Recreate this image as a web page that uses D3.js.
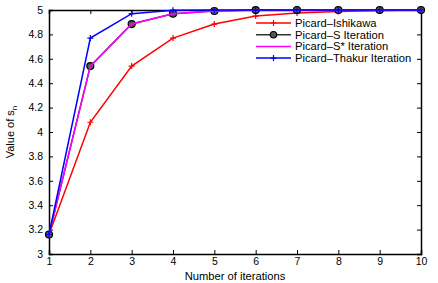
<!DOCTYPE html>
<html>
<head>
<script src="https://cdn.jsdelivr.net/npm/d3@7"></script>
<style>
  body { margin: 0; background: #fff; }
  text { font-family: "Liberation Sans", Arial, sans-serif; }
</style>
</head>
<body>
<div id="chart"></div>
<script>
// iterations on the x axis
var iterations = [1, 2, 3, 4, 5, 6, 7, 8, 9, 10];

// values
var ishikawa = [3.16, 4.08, 4.54, 4.77, 4.885, 4.95, 4.975, 4.988, 4.995, 5.0];
var picardS  = [3.16, 4.54, 4.885, 4.97, 4.992, 4.999, 5.0, 5.0, 5.0, 5.0];
var picardS2 = [3.16, 4.54, 4.885, 4.97, 4.992, 4.999, 5.0, 5.0, 5.0, 5.0];
var thakur   = [3.16, 4.77, 4.97, 4.997, 5.0, 5.0, 5.0, 5.0, 5.0, 5.0];

var yTicks = [3, 3.2, 3.4, 3.6, 3.8, 4, 4.2, 4.4, 4.6, 4.8, 5];

var width = 438, height = 283;
var margin = {top: 10, right: 17, bottom: 29, left: 49};

var svg = d3.select("#chart").append("svg")
    .attr("width", width).attr("height", height);

var x = d3.scaleLinear().domain([1, 10]).range([margin.left, width - margin.right]);
var y = d3.scaleLinear().domain([3, 5]).range([height - margin.bottom, margin.top]);

// axes with inward ticks on all four sides
var tl = 4;
svg.append("g")
    .attr("transform", "translate(0," + y(3) + ")")
    .call(d3.axisBottom(x).tickValues(iterations).tickSize(-tl).tickPadding(4).tickFormat(d3.format("d")));
svg.append("g")
    .attr("transform", "translate(0," + y(5) + ")")
    .call(d3.axisTop(x).tickValues(iterations).tickSize(-tl).tickFormat(""));
svg.append("g")
    .attr("transform", "translate(" + x(1) + ",0)")
    .call(d3.axisLeft(y).tickValues(yTicks).tickSize(-tl).tickPadding(6).tickFormat(function(d){ return d3.format("")(+d.toFixed(1)); }));
svg.append("g")
    .attr("transform", "translate(" + x(10) + ",0)")
    .call(d3.axisRight(y).tickValues(yTicks).tickSize(-tl).tickFormat(""));

svg.selectAll(".domain").attr("stroke", "#000").attr("stroke-width", 1.5);
svg.selectAll(".tick line").attr("stroke", "#000");
svg.selectAll(".tick text").attr("font-size", 10.5).attr("fill", "#000");

var line = d3.line().x(function(d, i){ return x(iterations[i]); }).y(function(d){ return y(d); });

function plus(g, data, color) {
  g.selectAll(null).data(data).enter().append("path")
    .attr("d", function(d, i){
      var cx = x(iterations[i]), cy = y(d), s = 3;
      return "M" + (cx - s) + "," + cy + "H" + (cx + s) + "M" + cx + "," + (cy - s) + "V" + (cy + s);
    })
    .attr("stroke", color).attr("stroke-width", 1.2);
}

var series = [
  {name: "Picard\u2013Ishikawa", data: ishikawa, color: "#ff0000", marker: "plus"},
  {name: "Picard\u2013S Iteration", data: picardS, color: "#333333", marker: "circle"},
  {name: "Picard\u2013S* Iteration", data: picardS2, color: "#ff00ff", marker: "none"},
  {name: "Picard\u2013Thakur Iteration", data: thakur, color: "#0000ff", marker: "plus"}
];

series.forEach(function(s) {
  var g = svg.append("g");
  g.append("path").datum(s.data).attr("d", line)
    .attr("fill", "none").attr("stroke", s.color).attr("stroke-width", 1.5);
  if (s.marker === "plus") plus(g, s.data, s.color);
  if (s.marker === "circle") {
    g.selectAll(null).data(s.data).enter().append("circle")
      .attr("cx", function(d, i){ return x(iterations[i]); })
      .attr("cy", function(d){ return y(d); })
      .attr("r", 3.5).attr("fill", "#555").attr("stroke", "#000").attr("stroke-width", 1.2);
  }
});

// legend
var legend = svg.append("g");
series.forEach(function(s, i) {
  var ly = 23 + i * 11.7;
  legend.append("line").attr("x1", 256).attr("x2", 291).attr("y1", ly).attr("y2", ly)
    .attr("stroke", s.color).attr("stroke-width", 1.5);
  if (s.marker === "plus") {
    legend.append("path").attr("d", "M270.5," + ly + "h6M273.5," + (ly - 3) + "v6")
      .attr("stroke", s.color).attr("stroke-width", 1.2);
  }
  if (s.marker === "circle") {
    legend.append("circle").attr("cx", 273.5).attr("cy", ly).attr("r", 3.2)
      .attr("fill", "#555").attr("stroke", "#000").attr("stroke-width", 1.2);
  }
  legend.append("text").attr("x", 295).attr("y", ly + 3.8)
    .attr("font-size", 11.2).text(s.name);
});

// axis labels
svg.append("text").attr("x", x(5.5)).attr("y", 280)
  .attr("text-anchor", "middle").attr("font-size", 11.2).text("Number of iterations");

var yl = svg.append("text")
  .attr("transform", "translate(14," + y(4) + ") rotate(-90)")
  .attr("text-anchor", "middle").attr("font-size", 11);
yl.append("tspan").text("Value of s");
yl.append("tspan").attr("dy", 3).attr("font-size", 8).text("n");
</script>
</body>
</html>
